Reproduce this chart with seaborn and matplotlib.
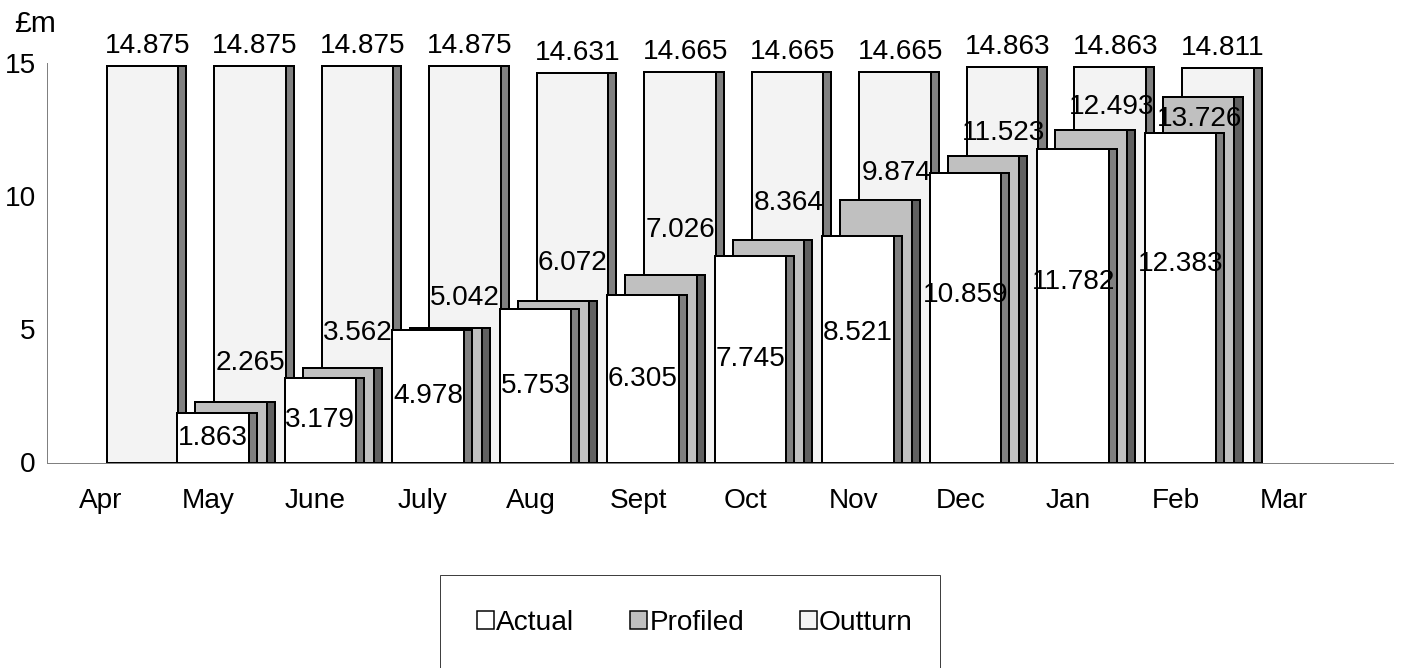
import numpy as np
import pandas as pd
import matplotlib
matplotlib.use('Agg')
import matplotlib.pyplot as plt
from matplotlib import font_manager
from matplotlib.patches import Patch, Rectangle
import seaborn as sns

# --- datos ---
months = ['Apr', 'May', 'June', 'July', 'Aug', 'Sept', 'Oct', 'Nov', 'Dec', 'Jan', 'Feb', 'Mar']
actual = [np.nan, 1.863, 3.179, 4.978, 5.753, 6.305, 7.745, 8.521, 10.859, 11.782, 12.383, np.nan]
profiled = [np.nan, 2.265, 3.562, 5.042, 6.072, 7.026, 8.364, 9.874, 11.523, 12.493, 13.726, np.nan]
outturn = [14.875, 14.875, 14.875, 14.875, 14.631, 14.665, 14.665, 14.665, 14.863, 14.863, 14.811, np.nan]
y_ticks = [0, 5, 10, 15]

# ajustes de las etiquetas (pixeles), como en el original
profiled_label_dy = [0, 39, 35, 30, 38, 45, 37, 27, 23, 23, -22, 0]
profiled_label_dx = [0, 19, 19, 19, 19, 19, 20, 21, 20, 20, 1, 0]
actual_label_dy = [0, 0, 0, 0, 0, 0, 0, 16, 23, 24, 34, 0]

# --- tema ---
sns.set_style('white')
names = {f.name for f in font_manager.fontManager.ttflist}
if 'Liberation Sans Narrow' in names:
    fam, fs = 'Liberation Sans Narrow', 32
else:
    fam, fs = 'Liberation Sans', 28
plt.rcParams['font.family'] = [fam, 'DejaVu Sans']
plt.rcParams['text.color'] = 'black'
plt.rcParams['xtick.labelcolor'] = 'black'
plt.rcParams['ytick.labelcolor'] = 'black'

FRONT_W = 0.665
SIDE_W = 0.075
OFF_ACTUAL, OFF_PROFILED, OFF_OUTTURN = 0.213, 0.381, 0.558

fig = plt.figure(figsize=(1402 / 72, 668 / 72), dpi=72)
ax = fig.add_axes([46.7 / 1402, (668 - 462.5) / 668, (1393 - 46.7) / 1402, 399.5 / 668])


def draw_series(vals, offset, face, side):
    df = pd.DataFrame({'pos': np.arange(len(months)) + offset, 'val': vals}).dropna()
    df['front'] = df['pos'] + FRONT_W / 2
    df['side'] = df['pos'] + FRONT_W + SIDE_W / 2
    for col, w, c in [('front', FRONT_W, face), ('side', SIDE_W, side)]:
        sns.barplot(data=df, x=col, y='val', native_scale=True, orient='x', width=w,
                    color=c, saturation=1, edgecolor='black', linewidth=2,
                    errorbar=None, ax=ax)


# de atras hacia adelante
draw_series(outturn, OFF_OUTTURN, '#f3f3f3', '#808080')
draw_series(profiled, OFF_PROFILED, '#c0c0c0', '#606060')
draw_series(actual, OFF_ACTUAL, '#ffffff', '#808080')

# --- etiquetas de valores ---
for i, v in enumerate(outturn):
    if np.isnan(v):
        continue
    ax.annotate(f'{v:.3f}', xy=(i + OFF_OUTTURN + (FRONT_W + SIDE_W) / 2, v), xytext=(1, 20),
                textcoords='offset points', ha='center', va='center', fontsize=fs)
for i, v in enumerate(profiled):
    if np.isnan(v):
        continue
    ax.annotate(f'{v:.3f}', xy=(i + OFF_PROFILED + FRONT_W / 2, v),
                xytext=(profiled_label_dx[i], profiled_label_dy[i]),
                textcoords='offset points', ha='center', va='center', fontsize=fs)
for i, v in enumerate(actual):
    if np.isnan(v):
        continue
    ax.annotate(f'{v:.3f}', xy=(i + OFF_ACTUAL + FRONT_W / 2, v / 2), xytext=(0, actual_label_dy[i]),
                textcoords='offset points', ha='center', va='center', fontsize=fs)

# --- ejes ---
ax.set_xlim(0, 12.52)
ax.set_ylim(0, 15)
ax.set_xlabel('')
ax.set_ylabel('')
ax.set_xticks(np.arange(0, 13))
ax.set_xticklabels([])
ax.set_xticks(np.arange(0.5, 12), labels=months, minor=True)
ax.set_yticks(y_ticks)
ax.set_yticklabels([str(t) for t in y_ticks], fontsize=fs)
ax.tick_params(axis='x', which='major', length=9, width=1, color='#808080', direction='out')
ax.tick_params(axis='x', which='minor', length=0, pad=26, labelsize=fs)
ax.tick_params(axis='y', length=7, width=1, color='#808080', direction='out', pad=4)
for s in ['top', 'right']:
    ax.spines[s].set_visible(False)
for s in ['left', 'bottom']:
    ax.spines[s].set_color('#808080')
    ax.spines[s].set_linewidth(1)

fig.text(35 / 1402, 1 - 24 / 668, '£m', ha='center', va='center', fontsize=30)

# --- leyenda ---
fig.patches.append(Rectangle((440 / 1402, -0.05), 500 / 1402, 0.05 + (668 - 575) / 668,
                             transform=fig.transFigure, facecolor='white',
                             edgecolor='#404040', linewidth=1))
handles = [Patch(facecolor='#ffffff', edgecolor='black', linewidth=1.5, label='Actual'),
           Patch(facecolor='#c0c0c0', edgecolor='black', linewidth=1.5, label='Profiled'),
           Patch(facecolor='#f3f3f3', edgecolor='black', linewidth=1.5, label='Outturn')]
fig.legend(handles=handles, loc='center', bbox_to_anchor=(695 / 1402, (668 - 623) / 668),
           ncol=3, frameon=False, fontsize=fs, handlelength=0.6, handleheight=0.6,
           handletextpad=0.08, columnspacing=2.0)

plt.savefig('out.png', dpi=72, facecolor='white')
